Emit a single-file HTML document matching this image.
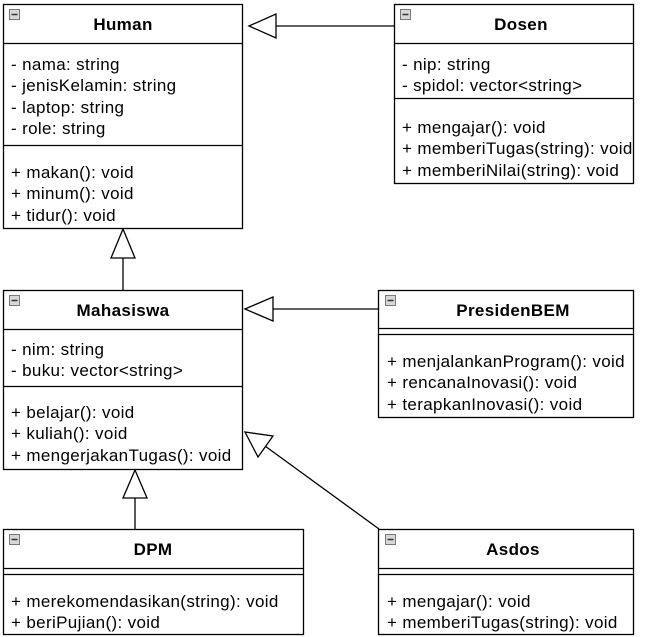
<!DOCTYPE html>
<html><head><meta charset="utf-8"><style>
html,body{margin:0;padding:0;background:#fff;}
svg{display:block;font-family:"Liberation Sans",Arial,sans-serif;font-size:17px;letter-spacing:0.35px;}
.t{font-weight:bold;text-anchor:middle;}
</style></head><body>
<svg width="652" height="637" viewBox="0 0 652 637" xmlns="http://www.w3.org/2000/svg">
<defs>
<g id="ic"><rect x="0.5" y="0.5" width="10" height="10" fill="#d8d8d8" stroke="#777"/><line x1="2.5" y1="5.5" x2="8.5" y2="5.5" stroke="#333" stroke-width="1.5"/></g>
</defs>
<g fill="#fff" stroke="#000" stroke-width="1.3">
<line x1="394" y1="26" x2="276" y2="26"/>
<polygon points="249,26 276,14 276,38"/>
<line x1="123" y1="290" x2="123" y2="258"/>
<polygon points="123,229 111,258 135,258"/>
<line x1="379" y1="309" x2="273" y2="309"/>
<polygon points="245,309 273,297 273,321"/>
<line x1="135" y1="529" x2="135" y2="498"/>
<polygon points="135,470 123,498 147,498"/>
<line x1="379" y1="529" x2="265" y2="446"/>
<polygon points="245,432 273,436 258,457"/>
<rect x="3.5" y="4.5" width="239" height="224"/>
<line x1="3.5" y1="43.5" x2="242.5" y2="43.5"/><line x1="3.5" y1="145.5" x2="242.5" y2="145.5"/>
<rect x="394.5" y="4.5" width="239" height="179"/>
<line x1="394.5" y1="43.5" x2="633.5" y2="43.5"/><line x1="394.5" y1="98.5" x2="633.5" y2="98.5"/>
<rect x="3.5" y="290.5" width="239" height="179"/>
<line x1="3.5" y1="329.5" x2="242.5" y2="329.5"/><line x1="3.5" y1="386.5" x2="242.5" y2="386.5"/>
<rect x="378.5" y="290.5" width="255" height="127"/>
<line x1="378.5" y1="328.5" x2="633.5" y2="328.5"/><line x1="378.5" y1="334.5" x2="633.5" y2="334.5"/>
<rect x="3.5" y="529.5" width="300" height="105"/>
<line x1="3.5" y1="568.5" x2="303.5" y2="568.5"/><line x1="3.5" y1="574.5" x2="303.5" y2="574.5"/>
<rect x="378.5" y="529.5" width="255" height="105"/>
<line x1="378.5" y1="568.5" x2="633.5" y2="568.5"/><line x1="378.5" y1="574.5" x2="633.5" y2="574.5"/>
</g>
<use href="#ic" x="9" y="9"/><use href="#ic" x="400" y="9"/><use href="#ic" x="9" y="295"/>
<use href="#ic" x="385" y="295"/><use href="#ic" x="9" y="534"/><use href="#ic" x="385" y="534"/>
<g fill="#000">
<text class="t" x="123" y="30">Human</text>
<text x="11" y="70">- nama: string</text>
<text x="11" y="91">- jenisKelamin: string</text>
<text x="11" y="113">- laptop: string</text>
<text x="11" y="134">- role: string</text>
<text x="11" y="178">+ makan(): void</text>
<text x="11" y="199">+ minum(): void</text>
<text x="11" y="221">+ tidur(): void</text>

<text class="t" x="521" y="30">Dosen</text>
<text x="402" y="70">- nip: string</text>
<text x="402" y="91">- spidol: vector&lt;string&gt;</text>
<text x="402" y="133">+ mengajar(): void</text>
<text x="402" y="154">+ memberiTugas(string): void</text>
<text x="402" y="176">+ memberiNilai(string): void</text>

<text class="t" x="123" y="316">Mahasiswa</text>
<text x="11" y="355">- nim: string</text>
<text x="11" y="376">- buku: vector&lt;string&gt;</text>
<text x="11" y="418">+ belajar(): void</text>
<text x="11" y="439">+ kuliah(): void</text>
<text x="11" y="461">+ mengerjakanTugas(): void</text>

<text class="t" x="513" y="316">PresidenBEM</text>
<text x="387" y="367">+ menjalankanProgram(): void</text>
<text x="387" y="388">+ rencanaInovasi(): void</text>
<text x="387" y="410">+ terapkanInovasi(): void</text>

<text class="t" x="153" y="555">DPM</text>
<text x="11" y="607">+ merekomendasikan(string): void</text>
<text x="11" y="628">+ beriPujian(): void</text>

<text class="t" x="513" y="555">Asdos</text>
<text x="387" y="607">+ mengajar(): void</text>
<text x="387" y="628">+ memberiTugas(string): void</text>
</g>
</svg>
</body></html>
